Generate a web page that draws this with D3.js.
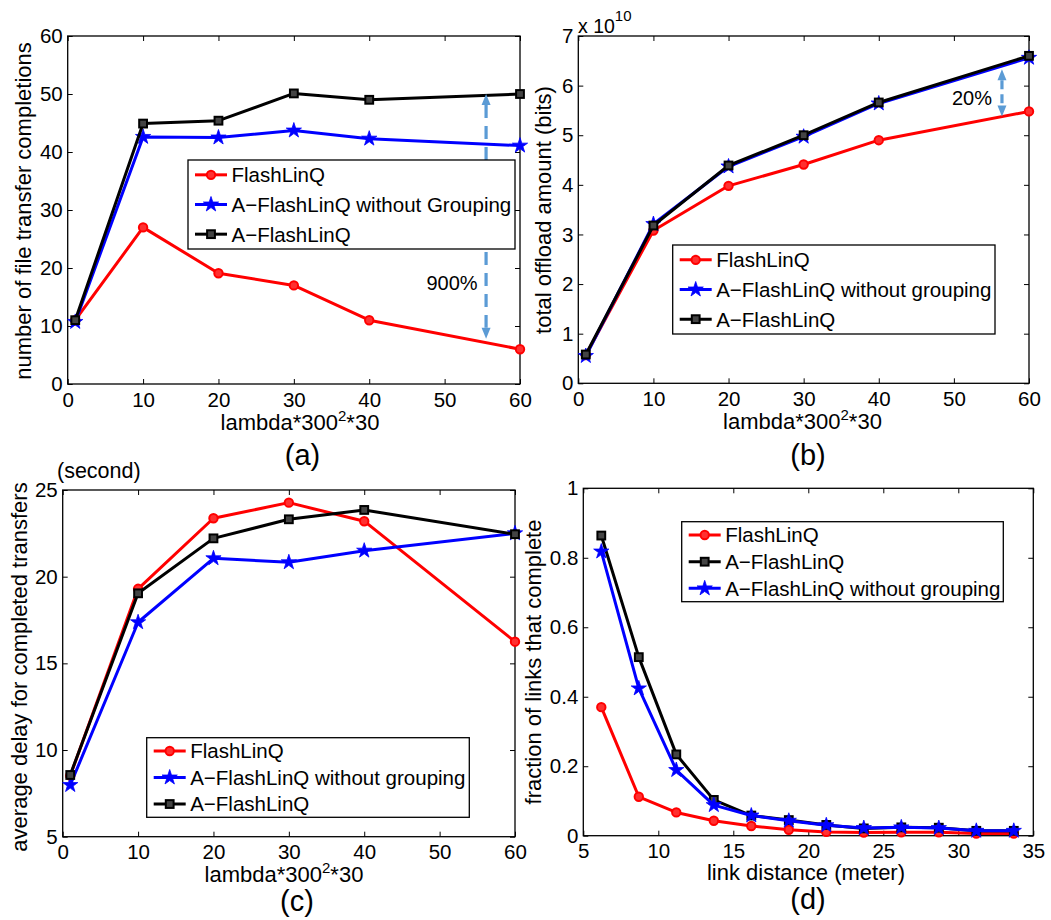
<!DOCTYPE html>
<html>
<head>
<meta charset="utf-8">
<script src="https://cdn.jsdelivr.net/npm/d3@7"></script>
<style>
  html, body { margin: 0; padding: 0; background: #fff; }
  svg { display: block; font-family: "Liberation Sans", Arial, Helvetica, sans-serif; }
</style>
</head>
<body>
<svg id="fig" width="1051" height="920"></svg>
<script>
// ---------- data ----------
const nameFlash   = "FlashLinQ";
const nameAFlash  = "A\u2212FlashLinQ";
const nameNoGroupCap = "A\u2212FlashLinQ without Grouping";
const nameNoGroup = "A\u2212FlashLinQ without grouping";

// arrival intensity (lambda*300^2*30)
const lambdaX = [1, 10, 20, 30, 40, 60];

// (a) number of file transfer completions
const completionsFlash   = [11, 27, 19.1, 17, 11, 6];
const completionsNoGroup = [10.7, 42.6, 42.5, 43.7, 42.3, 41.1];
const completionsAFlash  = [11, 44.9, 45.4, 50.1, 49, 50];

// (b) total offload amount (bits)
const offloadFlash   = [0.57e10, 3.08e10, 3.98e10, 4.41e10, 4.90e10, 5.48e10];
const offloadNoGroup = [0.55e10, 3.21e10, 4.37e10, 4.97e10, 5.64e10, 6.56e10];
const offloadAFlash  = [0.58e10, 3.18e10, 4.39e10, 5.00e10, 5.66e10, 6.60e10];

// (c) average delay for completed transfers (second)
const delayFlash   = [8.52, 19.3, 23.37, 24.27, 23.2, 16.25];
const delayNoGroup = [7.98, 17.37, 21.06, 20.83, 21.5, 22.5];
const delayAFlash  = [8.56, 19.04, 22.21, 23.31, 23.85, 22.45];

// (d) fraction of links that complete vs link distance (meter)
const linkDistance = [6.2, 8.7, 11.2, 13.7, 16.2, 18.7, 21.2, 23.7, 26.2, 28.7, 31.2, 33.7];
const fracFlash   = [0.37, 0.112, 0.067, 0.043, 0.028, 0.017, 0.011, 0.009, 0.010, 0.010, 0.006, 0.006];
const fracAFlash  = [0.864, 0.514, 0.234, 0.103, 0.058, 0.045, 0.031, 0.021, 0.024, 0.023, 0.014, 0.014];
const fracNoGroup = [0.818, 0.424, 0.189, 0.088, 0.058, 0.043, 0.030, 0.022, 0.024, 0.022, 0.014, 0.014];

// axis ticks
const lambdaTicks   = [0, 10, 20, 30, 40, 50, 60];
const completionTicks = [0, 10, 20, 30, 40, 50, 60];
const offloadTicks  = [0, 1e10, 2e10, 3e10, 4e10, 5e10, 6e10, 7e10];
const delayTicks    = [5, 10, 15, 20, 25];
const distanceTicks = [5, 10, 15, 20, 25, 30, 35];
const fractionTicks = [0, 0.2, 0.4, 0.6, 0.8, 1];

// gain annotations: [x, low, high, label]
const gainCompletions = [55.5, 7.8, 50.0, "900%"];
const gainOffload     = [56.4, 5.38e10, 6.33e10, "20%"];

// ---------- styling ----------
const RED = "#ff0000", BLUE = "#0000ff", BLACK = "#000000", ARROW = "#5b9bd5";
const FONT_TICK = 20.5, FONT_LABEL = 22, FONT_LEGEND = 20.5;

const svg = d3.select("#fig");
svg.append("rect").attr("width", 1051).attr("height", 920).attr("fill", "#fff");

function marker(g, type, color, cx, cy) {
  if (type === "circle") {
    g.append("circle").attr("cx", cx).attr("cy", cy).attr("r", 4.2)
      .attr("fill", "#ff3030").attr("stroke", color).attr("stroke-width", 2);
  } else if (type === "square") {
    g.append("rect").attr("x", cx - 3.9).attr("y", cy - 3.9).attr("width", 7.8).attr("height", 7.8)
      .attr("fill", "#444").attr("stroke", color).attr("stroke-width", 2);
  } else {
    g.append("path").attr("d", d3.symbol(d3.symbolStar, 72)())
      .attr("transform", `translate(${cx},${cy})`)
      .attr("fill", color).attr("stroke", color).attr("stroke-width", 0.8);
  }
}

function panel(cfg) {
  const g = svg.append("g");
  const x = d3.scaleLinear().domain(cfg.xDomain).range([cfg.left, cfg.right]);
  const y = d3.scaleLinear().domain(cfg.yDomain).range([cfg.bottom, cfg.top]);

  const styleAxis = sel => {
    sel.select(".domain").remove();
    sel.attr("font-family", null).attr("font-size", null);
    sel.selectAll(".tick line").attr("stroke", "#000").attr("stroke-width", 1);
    sel.selectAll(".tick text").attr("fill", "#000").attr("font-size", FONT_TICK);
  };

  g.append("g").attr("transform", `translate(0,${cfg.bottom})`)
    .call(d3.axisBottom(x).tickValues(cfg.xTicks).tickSizeInner(-5).tickSizeOuter(0)
      .tickPadding(8).tickFormat(cfg.xFormat)).call(styleAxis);
  g.append("g").attr("transform", `translate(0,${cfg.top})`)
    .call(d3.axisTop(x).tickValues(cfg.xTicks).tickSizeInner(-5).tickSizeOuter(0).tickFormat(""))
    .call(styleAxis);
  g.append("g").attr("transform", `translate(${cfg.left},0)`)
    .call(d3.axisLeft(y).tickValues(cfg.yTicks).tickSizeInner(-5).tickSizeOuter(0)
      .tickPadding(5).tickFormat(cfg.yFormat)).call(styleAxis);
  g.append("g").attr("transform", `translate(${cfg.right},0)`)
    .call(d3.axisRight(y).tickValues(cfg.yTicks).tickSizeInner(-5).tickSizeOuter(0).tickFormat(""))
    .call(styleAxis);

  g.append("rect").attr("x", cfg.left).attr("y", cfg.top)
    .attr("width", cfg.right - cfg.left).attr("height", cfg.bottom - cfg.top)
    .attr("fill", "none").attr("stroke", "#000").attr("stroke-width", 1.3);

  // series
  const line = d3.line().x(d => x(d[0])).y(d => y(d[1]));
  cfg.series.forEach(s => {
    const pts = cfg.xValues.map((xv, i) => [xv, s.values[i]]);
    g.append("path").datum(pts).attr("d", line).attr("fill", "none")
      .attr("stroke", s.color).attr("stroke-width", 3).attr("stroke-linejoin", "round");
    pts.forEach(p => marker(g, s.marker, s.color, x(p[0]), y(p[1])));
  });

  // gain annotation
  if (cfg.gain) {
    const [gx, lo, hi, label] = cfg.gain;
    const ax = x(gx), yTop = y(hi), yBot = y(lo);
    const head = 11, half = 4.5;
    g.append("line").attr("x1", ax).attr("x2", ax).attr("y1", yTop + head).attr("y2", yBot - head)
      .attr("stroke", ARROW).attr("stroke-width", 3.2).attr("stroke-dasharray", cfg.dash);
    g.append("path").attr("d", `M${ax},${yTop} L${ax - half},${yTop + head} L${ax + half},${yTop + head}Z`).attr("fill", ARROW);
    g.append("path").attr("d", `M${ax},${yBot} L${ax - half},${yBot - head} L${ax + half},${yBot - head}Z`).attr("fill", ARROW);
    g.append("text").attr("x", cfg.gainText[0]).attr("y", cfg.gainText[1])
      .attr("font-size", 20).attr("text-anchor", "middle").text(label);
  }

  // legend
  const L = cfg.legend;
  g.append("rect").attr("x", L.x).attr("y", L.y).attr("width", L.w).attr("height", L.h)
    .attr("fill", "#fff").attr("stroke", "#000").attr("stroke-width", 1.3);
  cfg.series.forEach((s, i) => {
    const cy = L.y + L.h * (i + 0.5) / 3;
    g.append("line").attr("x1", L.x + 7).attr("x2", L.x + 39).attr("y1", cy).attr("y2", cy)
      .attr("stroke", s.color).attr("stroke-width", 3);
    marker(g, s.marker, s.color, L.x + 23, cy);
    g.append("text").attr("x", L.x + 43.5).attr("y", cy).attr("dy", "0.36em")
      .attr("font-size", FONT_LEGEND).text(s.name);
  });

  // axis labels
  const xl = g.append("text").attr("x", cfg.xLabelPos[0]).attr("y", cfg.xLabelPos[1])
    .attr("text-anchor", "middle").attr("font-size", FONT_LABEL);
  cfg.xLabel(xl);
  g.append("text").attr("transform", `translate(${cfg.yLabelPos[0]},${cfg.yLabelPos[1]}) rotate(-90)`)
    .attr("text-anchor", "middle").attr("font-size", FONT_LABEL).text(cfg.yLabel);
  g.append("text").attr("x", cfg.tagPos[0]).attr("y", cfg.tagPos[1])
    .attr("text-anchor", "middle").attr("font-size", 29).text(cfg.tag);
  return { g, x, y };
}

const lambdaLabel = t => {
  t.append("tspan").text("lambda*300");
  t.append("tspan").attr("font-size", 15).attr("dy", -9).text("2");
  t.append("tspan").attr("dy", 9).text("*30");
};
const plain = v => String(v);

// (a)
panel({
  left: 67.7, right: 520, top: 36, bottom: 384,
  xDomain: [0, 60], yDomain: [0, 60], xValues: lambdaX,
  xTicks: lambdaTicks, yTicks: completionTicks, xFormat: plain, yFormat: plain,
  series: [
    { name: nameFlash, values: completionsFlash, color: RED, marker: "circle" },
    { name: nameNoGroupCap, values: completionsNoGroup, color: BLUE, marker: "star" },
    { name: nameAFlash, values: completionsAFlash, color: BLACK, marker: "square" }
  ],
  legend: { x: 188, y: 160, w: 327, h: 89 },
  gain: gainCompletions, gainText: [452, 290], dash: "13,8",
  xLabel: lambdaLabel, xLabelPos: [300, 430],
  yLabel: "number of file transfer completions", yLabelPos: [30.5, 211],
  tag: "(a)", tagPos: [302.5, 465]
});

// (b)
const pb = panel({
  left: 578.3, right: 1029, top: 36, bottom: 383.3,
  xDomain: [0, 60], yDomain: [0, 7e10], xValues: lambdaX,
  xTicks: lambdaTicks, yTicks: offloadTicks, xFormat: plain, yFormat: v => String(v / 1e10),
  series: [
    { name: nameFlash, values: offloadFlash, color: RED, marker: "circle" },
    { name: nameNoGroup, values: offloadNoGroup, color: BLUE, marker: "star" },
    { name: nameAFlash, values: offloadAFlash, color: BLACK, marker: "square" }
  ],
  legend: { x: 672.7, y: 245, w: 322.3, h: 89 },
  gain: gainOffload, gainText: [972, 105], dash: "9,5",
  xLabel: lambdaLabel, xLabelPos: [802.5, 428.5],
  yLabel: "total offload amount (bits)", yLabelPos: [551, 210],
  tag: "(b)", tagPos: [808, 465]
});
// exponent for the offload axis
const expo = pb.g.append("text").attr("x", 578).attr("y", 32.5).attr("font-size", 19.5);
expo.append("tspan").text("x 10");
expo.append("tspan").attr("font-size", 15).attr("dy", -12).text("10");

// (c)
const pc = panel({
  left: 62.7, right: 515, top: 490, bottom: 836.7,
  xDomain: [0, 60], yDomain: [5, 25], xValues: lambdaX,
  xTicks: lambdaTicks, yTicks: delayTicks, xFormat: plain, yFormat: plain,
  series: [
    { name: nameFlash, values: delayFlash, color: RED, marker: "circle" },
    { name: nameNoGroup, values: delayNoGroup, color: BLUE, marker: "star" },
    { name: nameAFlash, values: delayAFlash, color: BLACK, marker: "square" }
  ],
  legend: { x: 146.7, y: 737.7, w: 322.6, h: 79.6 },
  xLabel: lambdaLabel, xLabelPos: [284, 881.5],
  yLabel: "average delay for completed transfers", yLabelPos: [27, 667],
  tag: "(c)", tagPos: [297, 910.5]
});
pc.g.append("text").attr("x", 57).attr("y", 478).attr("font-size", 21.5).text("(second)");

// (d)
panel({
  left: 583.3, right: 1033.3, top: 488.3, bottom: 835.7,
  xDomain: [5, 35], yDomain: [0, 1], xValues: linkDistance,
  xTicks: distanceTicks, yTicks: fractionTicks, xFormat: plain, yFormat: v => String(+v.toFixed(1)),
  series: [
    { name: nameFlash, values: fracFlash, color: RED, marker: "circle" },
    { name: nameAFlash, values: fracAFlash, color: BLACK, marker: "square" },
    { name: nameNoGroup, values: fracNoGroup, color: BLUE, marker: "star" }
  ],
  legend: { x: 681.7, y: 521.7, w: 321.6, h: 80 },
  xLabel: t => t.text("link distance (meter)"), xLabelPos: [806, 880],
  yLabel: "fraction of links that complete", yLabelPos: [540.5, 662],
  tag: "(d)", tagPos: [808, 909]
});
</script>
</body>
</html>
